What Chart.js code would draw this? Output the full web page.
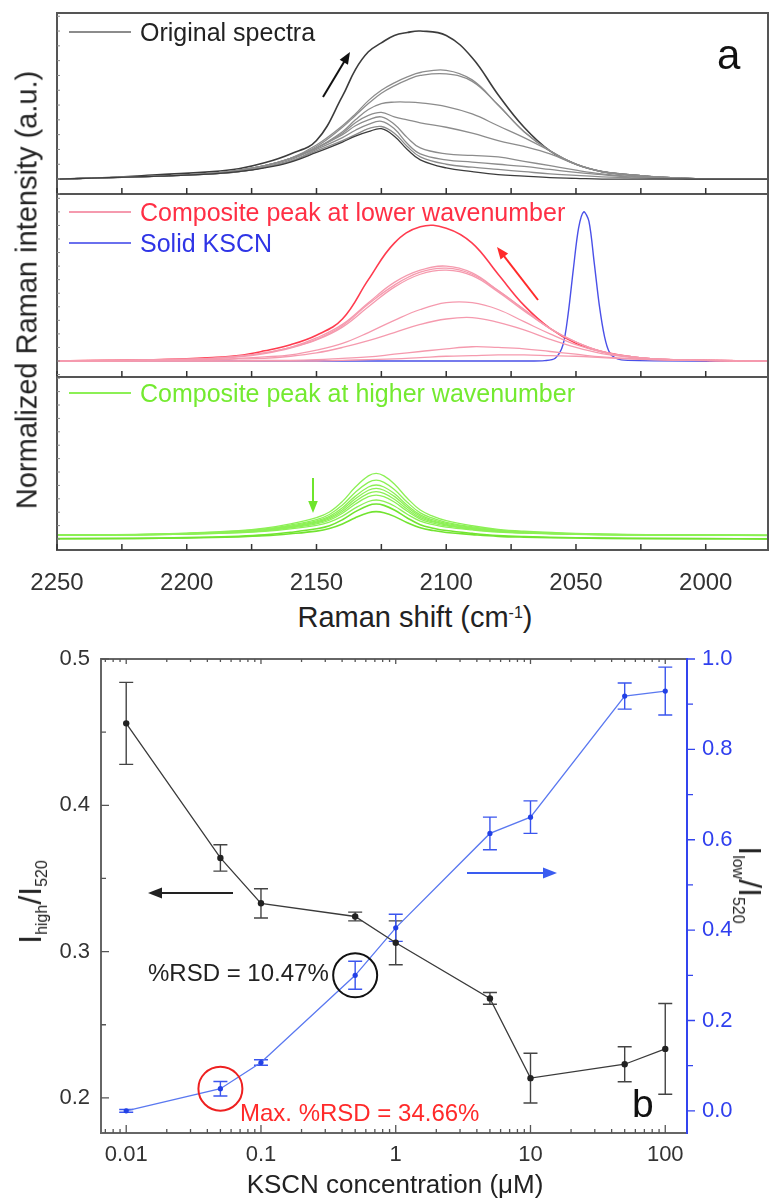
<!DOCTYPE html>
<html>
<head>
<meta charset="utf-8">
<title>KSCN Raman spectra</title>
<script src="https://cdn.jsdelivr.net/npm/chart.js@4.4.1/dist/chart.umd.min.js"></script>
<style>
  body { margin: 0; background: #fff; }
  #fig { position: relative; width: 772px; height: 1199px; overflow: hidden; background: #fff;
         font-family: "Liberation Sans", Arial, sans-serif; color: #222; }
  #fig canvas { position: absolute; left: 0; }
  .txt { position: absolute; white-space: nowrap; line-height: 1; }
  .leg { position: absolute; height: 2px; width: 62px; left: 69px; }
  .rot { position: absolute; white-space: nowrap; line-height: 1; transform: translate(-50%, -50%) rotate(-90deg); }
  .rot.cw { transform: translate(-50%, -50%) rotate(90deg); }
  .rot sub, .txt sub { font-size: 16px; position: relative; top: 0.35em; vertical-align: baseline; }
  .txt sup { font-size: 16px; position: relative; top: -0.55em; vertical-align: baseline; }
</style>
</head>
<body>
<div id="fig">
  <canvas id="spec1" width="772" height="187" style="top:10px"></canvas>
  <canvas id="spec2" width="772" height="189" style="top:191px"></canvas>
  <canvas id="spec3" width="772" height="226" style="top:374px"></canvas>
  <canvas id="ratio" width="772" height="559" style="top:640px"></canvas>

  <!-- panel a texts -->
  <div class="rot" style="left:27px; top:290px; font-size:29px;">Normalized Raman intensity (a.u.)</div>
  <div class="txt" style="left:415px; top:603px; font-size:29px; transform:translateX(-50%);">Raman shift (cm<sup>-1</sup>)</div>
  <div class="txt" style="left:717px; top:34px; font-size:42px; color:#111;">a</div>

  <div class="leg" style="top:31px; background:#8c8c8c;"></div>
  <div class="txt" style="left:140px; top:20px; font-size:25px; color:#222;">Original spectra</div>
  <div class="leg" style="top:211px; background:#f59aae;"></div>
  <div class="txt" style="left:140px; top:200px; font-size:25px; color:#ff2f45;">Composite peak at lower wavenumber</div>
  <div class="leg" style="top:242px; background:#6a70ee;"></div>
  <div class="txt" style="left:140px; top:231px; font-size:25px; color:#2f35e6;">Solid KSCN</div>
  <div class="leg" style="top:392px; background:#8cf055;"></div>
  <div class="txt" style="left:140px; top:381px; font-size:25px; color:#74ea30;">Composite peak at higher wavenumber</div>

  <!-- panel b texts -->
  <div class="rot" style="left:30px; top:902px; font-size:32px;">I<sub>high</sub>/I<sub>520</sub></div>
  <div class="rot cw" style="left:750px; top:885px; font-size:32px;">I<sub>low</sub>/I<sub>520</sub></div>
  <div class="txt" style="left:395px; top:1171px; font-size:26px; transform:translateX(-50%);">KSCN concentration (&mu;M)</div>
  <div class="txt" style="left:148px; top:961px; font-size:24px; color:#222;">%RSD = 10.47%</div>
  <div class="txt" style="left:240px; top:1101px; font-size:24px; color:#ff2a2a;">Max. %RSD = 34.66%</div>
  <div class="txt" style="left:632px; top:1084px; font-size:39px; color:#111;">b</div>
</div>

<script>
// ---- panel a: Raman spectra (x in cm-1, intensity normalized per panel) ----
const shiftTop = [2250, 2230, 2210, 2190, 2180, 2170, 2160, 2150, 2140, 2135, 2130, 2125, 2120, 2115, 2110, 2100, 2090, 2080, 2070, 2060, 2050, 2040, 2030, 2020, 2000, 1976];
const orig1 = [0, 0.01, 0.03, 0.05, 0.07, 0.11, 0.17, 0.26, 0.56, 0.74, 0.86, 0.92, 0.97, 0.99, 1.0, 0.97, 0.82, 0.57, 0.35, 0.19, 0.10, 0.05, 0.03, 0.015, 0, 0];
const orig2 = [0, 0.01, 0.02, 0.04, 0.06, 0.09, 0.14, 0.23, 0.36, 0.44, 0.53, 0.60, 0.65, 0.69, 0.72, 0.735, 0.67, 0.50, 0.32, 0.19, 0.10, 0.05, 0.03, 0.015, 0, 0];
const orig3 = [0, 0.01, 0.02, 0.04, 0.06, 0.09, 0.14, 0.22, 0.35, 0.43, 0.51, 0.58, 0.63, 0.67, 0.70, 0.71, 0.66, 0.50, 0.32, 0.19, 0.10, 0.05, 0.03, 0.015, 0, 0];
const orig4 = [0, 0.01, 0.02, 0.04, 0.06, 0.09, 0.14, 0.21, 0.32, 0.40, 0.47, 0.51, 0.52, 0.52, 0.515, 0.49, 0.44, 0.36, 0.28, 0.19, 0.10, 0.05, 0.03, 0.015, 0, 0];
const orig5 = [0, 0.01, 0.02, 0.04, 0.06, 0.09, 0.14, 0.21, 0.31, 0.38, 0.43, 0.45, 0.42, 0.40, 0.38, 0.35, 0.31, 0.26, 0.22, 0.17, 0.10, 0.05, 0.03, 0.015, 0, 0];
const orig6 = [0, 0.01, 0.02, 0.035, 0.05, 0.08, 0.13, 0.21, 0.30, 0.36, 0.40, 0.42, 0.37, 0.28, 0.21, 0.17, 0.16, 0.15, 0.12, 0.09, 0.06, 0.035, 0.02, 0.01, 0, 0];
const orig7 = [0, 0.01, 0.02, 0.035, 0.05, 0.08, 0.12, 0.20, 0.28, 0.33, 0.37, 0.39, 0.34, 0.24, 0.17, 0.13, 0.115, 0.10, 0.085, 0.065, 0.045, 0.03, 0.015, 0.01, 0, 0];
const orig8 = [0, 0.01, 0.02, 0.035, 0.05, 0.08, 0.12, 0.19, 0.26, 0.30, 0.34, 0.355, 0.31, 0.22, 0.15, 0.10, 0.08, 0.065, 0.05, 0.035, 0.025, 0.015, 0.01, 0.005, 0, 0];
const orig9 = [0, 0.01, 0.02, 0.035, 0.05, 0.075, 0.115, 0.18, 0.25, 0.29, 0.32, 0.34, 0.29, 0.20, 0.13, 0.075, 0.05, 0.03, 0.02, 0.01, 0.005, 0, 0, 0, 0, 0];

const shiftMid = [2250, 2230, 2210, 2190, 2180, 2170, 2160, 2150, 2140, 2130, 2120, 2110, 2100, 2090, 2080, 2070, 2060, 2050, 2040, 2030, 2020, 2000, 1976];
const low1 = [0, 0.005, 0.01, 0.025, 0.04, 0.075, 0.12, 0.19, 0.31, 0.60, 0.87, 0.99, 0.98, 0.87, 0.64, 0.41, 0.24, 0.13, 0.07, 0.035, 0.015, 0.005, 0];
const low2 = [0, 0.005, 0.01, 0.02, 0.035, 0.06, 0.10, 0.17, 0.27, 0.43, 0.58, 0.67, 0.70, 0.65, 0.52, 0.38, 0.24, 0.14, 0.07, 0.035, 0.015, 0.005, 0];
const low3 = [0, 0.005, 0.01, 0.02, 0.035, 0.06, 0.10, 0.16, 0.26, 0.42, 0.56, 0.655, 0.685, 0.64, 0.52, 0.38, 0.24, 0.14, 0.07, 0.035, 0.015, 0.005, 0];
const low4 = [0, 0.005, 0.01, 0.02, 0.03, 0.055, 0.095, 0.155, 0.25, 0.40, 0.545, 0.64, 0.67, 0.63, 0.51, 0.37, 0.24, 0.14, 0.07, 0.035, 0.015, 0.005, 0];
const low5 = [0, 0, 0.005, 0.01, 0.02, 0.03, 0.045, 0.08, 0.13, 0.21, 0.30, 0.38, 0.43, 0.43, 0.38, 0.29, 0.20, 0.12, 0.065, 0.03, 0.015, 0.005, 0];
const low6 = [0, 0, 0.005, 0.01, 0.015, 0.02, 0.035, 0.06, 0.10, 0.15, 0.21, 0.27, 0.31, 0.32, 0.285, 0.23, 0.16, 0.10, 0.055, 0.03, 0.015, 0.005, 0];
const low7 = [0, 0, 0, 0, 0, 0.005, 0.005, 0.01, 0.02, 0.03, 0.05, 0.07, 0.09, 0.105, 0.10, 0.09, 0.07, 0.05, 0.03, 0.02, 0.01, 0.005, 0];
const low8 = [0, 0, 0, 0, 0, 0, 0, 0, 0.005, 0.01, 0.015, 0.025, 0.035, 0.04, 0.045, 0.045, 0.04, 0.035, 0.025, 0.015, 0.01, 0.005, 0];

const shiftKscn = [2250, 2150, 2070, 2062, 2058, 2055, 2053, 2051, 2049, 2047, 2045, 2043, 2041, 2039, 2037, 2034, 2030, 2000, 1976];
const kscn = [0, 0, 0, 0.003, 0.02, 0.12, 0.35, 0.68, 0.98, 1.10, 1.03, 0.73, 0.41, 0.18, 0.06, 0.015, 0.005, 0, 0];

const shiftBot = [2250, 2220, 2200, 2180, 2170, 2160, 2150, 2145, 2140, 2135, 2130, 2127, 2124, 2120, 2115, 2110, 2105, 2100, 2090, 2080, 2070, 2050, 2030, 2000, 1976];
const high1 = [0.030, 0.034, 0.044, 0.062, 0.081, 0.113, 0.160, 0.202, 0.281, 0.388, 0.471, 0.490, 0.471, 0.411, 0.304, 0.216, 0.169, 0.137, 0.099, 0.072, 0.058, 0.041, 0.034, 0.030, 0.027];
const high2 = [0.029, 0.033, 0.042, 0.058, 0.075, 0.104, 0.145, 0.183, 0.253, 0.349, 0.423, 0.440, 0.423, 0.369, 0.274, 0.195, 0.154, 0.125, 0.091, 0.067, 0.054, 0.040, 0.033, 0.029, 0.027];
const high3 = [0.029, 0.033, 0.040, 0.055, 0.070, 0.097, 0.135, 0.169, 0.233, 0.320, 0.388, 0.403, 0.388, 0.339, 0.252, 0.180, 0.142, 0.116, 0.085, 0.063, 0.051, 0.038, 0.033, 0.029, 0.027];
const high4 = [0.029, 0.032, 0.039, 0.053, 0.067, 0.092, 0.127, 0.159, 0.219, 0.300, 0.364, 0.378, 0.364, 0.318, 0.237, 0.170, 0.134, 0.110, 0.081, 0.060, 0.050, 0.037, 0.032, 0.029, 0.027];
const high5 = [0.028, 0.032, 0.038, 0.051, 0.064, 0.087, 0.120, 0.150, 0.205, 0.281, 0.340, 0.353, 0.340, 0.297, 0.222, 0.159, 0.127, 0.104, 0.077, 0.058, 0.048, 0.036, 0.032, 0.028, 0.027];
const high6 = [0.028, 0.031, 0.037, 0.049, 0.061, 0.083, 0.113, 0.140, 0.192, 0.261, 0.316, 0.328, 0.316, 0.276, 0.207, 0.149, 0.119, 0.098, 0.073, 0.055, 0.046, 0.036, 0.031, 0.028, 0.027];
const high7 = [0.028, 0.030, 0.036, 0.046, 0.057, 0.076, 0.102, 0.126, 0.171, 0.232, 0.280, 0.291, 0.280, 0.246, 0.185, 0.134, 0.107, 0.089, 0.068, 0.052, 0.044, 0.034, 0.030, 0.028, 0.026];
const high8 = [0.003, 0.005, 0.010, 0.021, 0.031, 0.050, 0.076, 0.099, 0.144, 0.204, 0.251, 0.261, 0.251, 0.217, 0.157, 0.107, 0.081, 0.063, 0.042, 0.026, 0.018, 0.009, 0.005, 0.003, 0.001];
const high9 = [0.002, 0.004, 0.008, 0.016, 0.024, 0.039, 0.059, 0.078, 0.112, 0.159, 0.196, 0.204, 0.196, 0.169, 0.122, 0.084, 0.063, 0.049, 0.033, 0.020, 0.014, 0.007, 0.004, 0.002, 0.001];

const shiftTicks = [2250, 2225, 2200, 2175, 2150, 2125, 2100, 2075, 2050, 2025, 2000];
const shiftLabels = ['2250', '2200', '2150', '2100', '2050', '2000'];
const shiftLabelValues = [2250, 2200, 2150, 2100, 2050, 2000];

// ---- panel b: intensity ratios vs KSCN concentration ----
const conc = [0.01, 0.05, 0.1, 0.5, 1, 5, 10, 50, 100];
const ratioHigh = [0.456, 0.364, 0.333, 0.324, 0.306, 0.268, 0.2135, 0.223, 0.2335];
const errHigh = [0.028, 0.009, 0.010, 0.003, 0.015, 0.004, 0.017, 0.012, 0.031];
const ratioLow = [0.0, 0.049, 0.107, 0.30, 0.405, 0.614, 0.65, 0.918, 0.929];
const errLow = [0.003, 0.016, 0.006, 0.031, 0.03, 0.036, 0.036, 0.029, 0.053];

const concTicks = [0.01, 0.1, 1, 10, 100];
const concLabels = ['0.01', '0.1', '1', '10', '100'];
const highTicks = [0.2, 0.3, 0.4, 0.5];
const highLabels = ['0.2', '0.3', '0.4', '0.5'];
const highMinor = [0.25, 0.35, 0.45];
const lowTicks = [0.0, 0.2, 0.4, 0.6, 0.8, 1.0];
const lowLabels = ['0.0', '0.2', '0.4', '0.6', '0.8', '1.0'];
const lowMinor = [0.1, 0.3, 0.5, 0.7, 0.9];

Chart.defaults.font.family = '"Liberation Sans", Arial, sans-serif';

const pts = (xs, ys) => xs.map((v, i) => ({ x: v, y: ys[i] }));

function arrow(ctx, x1, y1, x2, y2, color, head) {
  const ang = Math.atan2(y2 - y1, x2 - x1);
  const c = Math.cos(ang), s = Math.sin(ang);
  ctx.strokeStyle = color;
  ctx.fillStyle = color;
  ctx.lineWidth = 2;
  ctx.beginPath();
  ctx.moveTo(x1, y1);
  ctx.lineTo(x2 - c * head * 0.8, y2 - s * head * 0.8);
  ctx.stroke();
  ctx.beginPath();
  ctx.moveTo(x2, y2);
  ctx.lineTo(x2 - head * c + head * 0.4 * s, y2 - head * s - head * 0.4 * c);
  ctx.lineTo(x2 - head * c - head * 0.4 * s, y2 - head * s + head * 0.4 * c);
  ctx.closePath();
  ctx.fill();
}

// frame, ticks and arrow for each spectrum panel
const specFrame = {
  id: 'specFrame',
  afterDraw(chart, args, opts) {
    const { ctx, chartArea: a, scales: { x, y } } = chart;
    ctx.save();
    ctx.strokeStyle = '#555';
    ctx.lineWidth = 2;
    ctx.beginPath();
    ctx.moveTo(a.left, a.top - 1); ctx.lineTo(a.left, a.bottom + 1);
    ctx.moveTo(a.right, a.top - 1); ctx.lineTo(a.right, a.bottom + 1);
    ctx.moveTo(a.left, a.bottom); ctx.lineTo(a.right, a.bottom);
    if (opts.top) { ctx.moveTo(a.left, a.top); ctx.lineTo(a.right, a.top); }
    ctx.stroke();
    ctx.lineWidth = 1.5;
    ctx.strokeStyle = '#333';
    ctx.beginPath();
    shiftTicks.forEach(w => {
      const px = x.getPixelForValue(w);
      ctx.moveTo(px, a.bottom); ctx.lineTo(px, a.bottom - 6);
    });
    ctx.stroke();
    ctx.strokeStyle = '#888';
    ctx.lineWidth = 1;
    ctx.beginPath();
    for (let v = Math.ceil(y.min * 10) / 10; v <= y.max; v += 0.1) {
      const py = y.getPixelForValue(v);
      ctx.moveTo(a.left, py); ctx.lineTo(a.left + 3, py);
    }
    ctx.stroke();
    if (opts.arrow) {
      const [x1, y1, x2, y2, col] = opts.arrow;
      const top = chart.canvas.offsetTop;
      arrow(ctx, x1, y1 - top, x2, y2 - top, col, 12);
    }
    ctx.restore();
  }
};

function specChart(id, datasets, yMin, yMax, frameOpts, withAxis) {
  return new Chart(document.getElementById(id), {
    type: 'line',
    data: { datasets },
    options: {
      responsive: false,
      animation: false,
      events: [],
      layout: { padding: { left: 57, right: 4, top: 3, bottom: withAxis ? 0 : 3 } },
      elements: { point: { radius: 0 }, line: { borderWidth: 1.3, tension: 0.4 } },
      scales: {
        x: {
          type: 'linear', min: 1976, max: 2250, reverse: true,
          display: withAxis,
          grid: { display: false, drawTicks: false },
          border: { display: false },
          afterBuildTicks: s => { s.ticks = shiftLabelValues.map(v => ({ value: v })); },
          afterFit: s => {
            if (withAxis) s.height = 50;
            s.paddingLeft = 0; s.paddingRight = 0;
          },
          ticks: {
            autoSkip: false, maxRotation: 0, padding: 19,
            color: '#333', font: { size: 24 },
            callback: (v, i) => shiftLabels[i]
          }
        },
        y: { min: yMin, max: yMax, display: false }
      },
      plugins: { legend: { display: false }, tooltip: { enabled: false }, specFrame: frameOpts }
    },
    plugins: [specFrame]
  });
}

const gray = '#8c8c8c', dark = '#3c3c3c';
specChart('spec1', [
  { data: pts(shiftTop, orig9), borderColor: dark },
  { data: pts(shiftTop, orig8), borderColor: gray },
  { data: pts(shiftTop, orig7), borderColor: gray },
  { data: pts(shiftTop, orig6), borderColor: gray },
  { data: pts(shiftTop, orig5), borderColor: gray },
  { data: pts(shiftTop, orig4), borderColor: gray },
  { data: pts(shiftTop, orig3), borderColor: gray },
  { data: pts(shiftTop, orig2), borderColor: gray },
  { data: pts(shiftTop, orig1), borderColor: dark, borderWidth: 1.6 }
], -0.101, 1.122, { top: true, arrow: [323, 97, 350, 52, '#111'] }, false);

const pink = '#f59aae';
specChart('spec2', [
  { data: pts(shiftMid, low8), borderColor: pink },
  { data: pts(shiftMid, low7), borderColor: pink },
  { data: pts(shiftMid, low6), borderColor: pink },
  { data: pts(shiftMid, low5), borderColor: pink },
  { data: pts(shiftMid, low4), borderColor: pink },
  { data: pts(shiftMid, low3), borderColor: pink },
  { data: pts(shiftMid, low2), borderColor: pink },
  { data: pts(shiftMid, low1), borderColor: '#ff3b4e', borderWidth: 1.6 },
  { data: pts(shiftKscn, kscn), borderColor: '#4a50e8', borderWidth: 1.4, tension: 0.3 }
], -0.118, 1.232, { top: false, arrow: [538, 300, 497, 247, '#ff2a2a'] }, false);

const green = '#8cf055', green2 = '#72e430';
specChart('spec3', [
  { data: pts(shiftBot, high1), borderColor: green },
  { data: pts(shiftBot, high2), borderColor: green },
  { data: pts(shiftBot, high3), borderColor: green },
  { data: pts(shiftBot, high4), borderColor: green },
  { data: pts(shiftBot, high5), borderColor: green },
  { data: pts(shiftBot, high6), borderColor: green },
  { data: pts(shiftBot, high7), borderColor: green },
  { data: pts(shiftBot, high8), borderColor: green2, borderWidth: 1.6 },
  { data: pts(shiftBot, high9), borderColor: green2, borderWidth: 1.6 }
], -0.082, 1.209, { top: false, arrow: [313, 478, 313, 513, '#6ee52c'] }, true);

// ---- panel b decorations: frame, ticks, error bars, circles, arrows ----
const ratioDecor = {
  id: 'ratioDecor',
  beforeDatasetsDraw(chart) {
    const { ctx, scales: { x, y, y2 } } = chart;
    const bars = (axis, vals, errs, col) => {
      ctx.strokeStyle = col;
      ctx.lineWidth = 1.4;
      ctx.beginPath();
      conc.forEach((c, i) => {
        const px = x.getPixelForValue(c);
        const t = axis.getPixelForValue(vals[i] + errs[i]);
        const b = axis.getPixelForValue(vals[i] - errs[i]);
        ctx.moveTo(px, t); ctx.lineTo(px, b);
        ctx.moveTo(px - 7, t); ctx.lineTo(px + 7, t);
        ctx.moveTo(px - 7, b); ctx.lineTo(px + 7, b);
      });
      ctx.stroke();
    };
    ctx.save();
    bars(y, ratioHigh, errHigh, '#444');
    bars(y2, ratioLow, errLow, '#3a55ee');
    ctx.restore();
  },
  afterDraw(chart) {
    const { ctx, chartArea: a, scales: { x, y, y2 } } = chart;
    ctx.save();
    // frame
    ctx.lineWidth = 2;
    ctx.strokeStyle = '#666';
    ctx.beginPath();
    ctx.moveTo(a.left, a.top); ctx.lineTo(a.right, a.top);
    ctx.moveTo(a.left, a.top - 1); ctx.lineTo(a.left, a.bottom + 1);
    ctx.moveTo(a.left, a.bottom); ctx.lineTo(a.right, a.bottom);
    ctx.stroke();
    ctx.strokeStyle = '#3344ee';
    ctx.beginPath();
    ctx.moveTo(a.right, a.top - 1); ctx.lineTo(a.right, a.bottom + 1);
    ctx.stroke();

    // log ticks on bottom (inward) and top (inward)
    ctx.lineWidth = 1.3;
    ctx.strokeStyle = '#555';
    ctx.beginPath();
    [0.001, 0.01, 0.1, 1, 10, 100].forEach(d => {
      for (let m = 1; m <= 9; m++) {
        const v = m * d;
        if (v < x.min || v > x.max) continue;
        const px = x.getPixelForValue(v);
        const len = m === 1 ? 8 : 4;
        ctx.moveTo(px, a.bottom); ctx.lineTo(px, a.bottom - len);
        ctx.moveTo(px, a.top); ctx.lineTo(px, a.top + (m === 1 ? 5 : 3));
      }
    });
    // left ticks (inward)
    highTicks.forEach(v => { const py = y.getPixelForValue(v); ctx.moveTo(a.left, py); ctx.lineTo(a.left + 8, py); });
    highMinor.forEach(v => { const py = y.getPixelForValue(v); ctx.moveTo(a.left, py); ctx.lineTo(a.left + 5, py); });
    ctx.stroke();
    // right ticks (outward, blue)
    ctx.strokeStyle = '#3344ee';
    ctx.beginPath();
    lowTicks.forEach(v => { const py = y2.getPixelForValue(v); ctx.moveTo(a.right, py); ctx.lineTo(a.right + 8, py); });
    lowMinor.forEach(v => { const py = y2.getPixelForValue(v); ctx.moveTo(a.right, py); ctx.lineTo(a.right + 6, py); });
    ctx.stroke();

    // circles around the highlighted points
    ctx.lineWidth = 2;
    ctx.strokeStyle = '#111';
    ctx.beginPath();
    ctx.arc(x.getPixelForValue(conc[3]), y2.getPixelForValue(ratioLow[3]), 22, 0, Math.PI * 2);
    ctx.stroke();
    ctx.strokeStyle = '#ee2020';
    ctx.beginPath();
    ctx.arc(x.getPixelForValue(conc[1]), y2.getPixelForValue(ratioLow[1]), 22, 0, Math.PI * 2);
    ctx.stroke();

    // axis arrows
    const top = chart.canvas.offsetTop;
    arrow(ctx, 233, 893 - top, 148, 893 - top, '#222', 14);
    arrow(ctx, 467, 873 - top, 557, 873 - top, '#3a5cf0', 14);
    ctx.restore();
  }
};

const noVertPad = s => { s.paddingTop = 0; s.paddingBottom = 0; };

new Chart(document.getElementById('ratio'), {
  type: 'line',
  data: {
    datasets: [
      {
        label: 'I_high/I_520', data: pts(conc, ratioHigh), yAxisID: 'y',
        borderColor: '#3a3a3a', borderWidth: 1.3,
        pointRadius: 3.2, pointBackgroundColor: '#222', pointBorderWidth: 0
      },
      {
        label: 'I_low/I_520', data: pts(conc, ratioLow), yAxisID: 'y2',
        borderColor: '#5a78f0', borderWidth: 1.3,
        pointRadius: 2.6, pointBackgroundColor: '#2240e6', pointBorderWidth: 0
      }
    ]
  },
  options: {
    responsive: false,
    animation: false,
    events: [],
    layout: { padding: { top: 19, left: 0, right: 0, bottom: 0 } },
    scales: {
      x: {
        type: 'logarithmic', min: 0.0065, max: 145,
        grid: { display: false, drawTicks: false },
        border: { display: false },
        afterBuildTicks: s => { s.ticks = concTicks.map(v => ({ value: v })); },
        afterFit: s => { s.height = 66; s.paddingLeft = 0; s.paddingRight = 0; },
        ticks: { autoSkip: false, maxRotation: 0, padding: 9, color: '#333', font: { size: 22 },
                 callback: (v, i) => concLabels[i] }
      },
      y: {
        position: 'left', min: 0.176, max: 0.5,
        grid: { display: false, drawTicks: false },
        border: { display: false },
        afterBuildTicks: s => { s.ticks = highTicks.map(v => ({ value: v })); },
        afterFit: s => { s.width = 101; noVertPad(s); },
        ticks: { padding: 11, color: '#333', font: { size: 22 }, callback: (v, i) => highLabels[i] }
      },
      y2: {
        position: 'right', min: -0.049, max: 1.0,
        grid: { display: false, drawTicks: false },
        border: { display: false },
        afterBuildTicks: s => { s.ticks = lowTicks.map(v => ({ value: v })); },
        afterFit: s => { s.width = 85; noVertPad(s); },
        ticks: { padding: 15, color: '#2f3fee', font: { size: 22 }, callback: (v, i) => lowLabels[i] }
      }
    },
    plugins: { legend: { display: false }, tooltip: { enabled: false } }
  },
  plugins: [ratioDecor]
});
</script>
</body>
</html>
